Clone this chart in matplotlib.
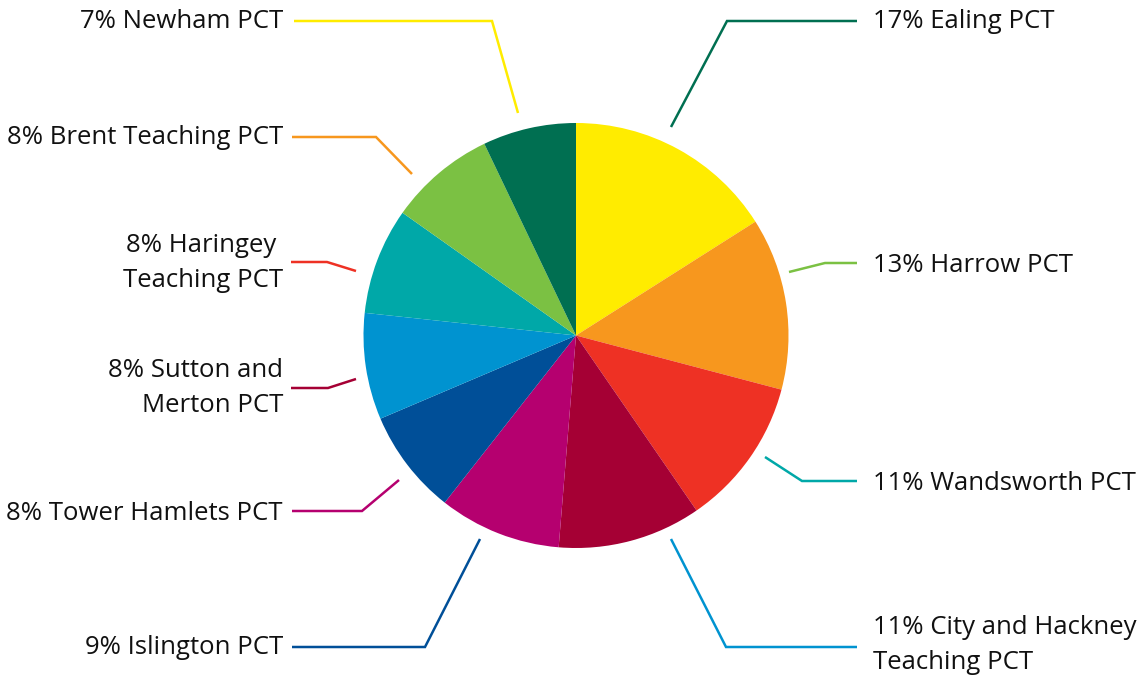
import matplotlib
matplotlib.use("Agg")
import matplotlib.pyplot as plt

# PCT shares, clockwise from 12 o'clock
names = ["Ealing PCT", "Harrow PCT", "Wandsworth PCT", "City and Hackney\nTeaching PCT",
         "Islington PCT", "Tower Hamlets PCT", "Sutton and\nMerton PCT",
         "Haringey \nTeaching PCT", "Brent Teaching PCT", "Newham PCT"]
pct_labels = [17, 13, 11, 11, 9, 8, 8, 8, 8, 7]
# slice sizes as drawn (unrounded)
slice_values = [16.0, 13.1, 11.3, 10.9, 9.3, 8.0, 8.1, 8.1, 8.1, 7.1]
slice_colors = ["#FFEC00", "#F7971E", "#EE3124", "#A50034", "#B5006F",
                "#004F98", "#0093D0", "#00A8A8", "#7BC143", "#006F51"]
# leader lines use the palette in reverse
line_colors = slice_colors[::-1]

# layout (pixel coords, y down): leader line points and label anchor
leaders = [
    [(671, 127), (727, 21), (857, 21)],
    [(789, 272), (825, 263), (857, 263)],
    [(765, 457), (802, 481), (857, 481)],
    [(671, 539), (726, 647), (857, 647)],
    [(480, 539), (425, 647), (292, 647)],
    [(399, 480), (362, 511), (292, 511)],
    [(356, 379), (328, 388), (291, 388)],
    [(356, 271), (327, 262), (291, 262)],
    [(412, 174), (376, 137), (292, 137)],
    [(518, 113), (492, 21), (294, 21)],
]
label_pos = [(873, 22), (873, 266), (873, 484), (873, 645),
             (283, 648), (283, 514), (283, 388), (283, 263), (283, 138), (283, 22)]

fig = plt.figure(figsize=(11.48, 6.75), dpi=100)
ax = fig.add_axes([0, 0, 1, 1])

ax.pie(slice_values, colors=slice_colors, startangle=-90, counterclock=True,
       center=(576, 335.5), radius=212.5, wedgeprops=dict(linewidth=0))

for pts, col in zip(leaders, line_colors):
    xs = [p[0] for p in pts]
    ys = [p[1] for p in pts]
    ax.plot(xs, ys, color=col, lw=1.8, solid_capstyle="butt", solid_joinstyle="miter")

for name, pct, (x, y) in zip(names, pct_labels, label_pos):
    ha = "left" if x > 576 else "right"
    ax.text(x, y, f"{pct}% {name}", ha=ha, va="center", fontsize=18.5,
            family=["Open Sans", "DejaVu Sans"], color="#111111", linespacing=1.52)

ax.set_xlim(0, 1148)
ax.set_ylim(675, 0)
ax.axis("off")

fig.savefig("out.png", dpi=100)
